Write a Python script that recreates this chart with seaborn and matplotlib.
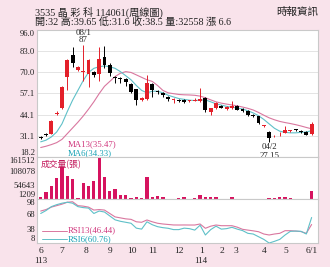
import matplotlib
matplotlib.use('Agg')
import matplotlib.pyplot as plt
import numpy as np
import pandas as pd
import seaborn as sns

# ---------------- data (weekly) ----------------
opens  = [30.6, 32.2, 32.4, 44.6, 48.5, 67.0, 80.8, 71.6, 70.0, 69.2, 70.2, 68.8, 79.7, 74.5, 67.2, 66.4, 66.0, 63.2,
          59.6, 53.2, 53.8, 63.2, 58.6, 57.3, 55.2, 53.2, 53.0, 52.9, 52.6, 52.7, 52.2, 54.4, 45.6, 48.0, 49.7, 47.4,
          48.0, 49.7, 47.6, 46.5, 44.0, 43.3, 37.2, 33.8, 30.9, 31.5, 33.2, 34.2, 35.0, 34.3, 33.5, 32.0]
highs  = [31.2, 32.6, 41.0, 46.2, 61.5, 78.5, 85.8, 74.0, 87.0, 78.0, 71.0, 85.5, 86.0, 75.5, 68.0, 67.2, 66.8, 63.8,
          60.0, 55.0, 68.5, 63.8, 59.5, 58.0, 55.8, 54.5, 53.6, 53.5, 53.4, 54.5, 60.7, 54.8, 48.5, 52.0, 50.3, 49.2,
          52.2, 50.2, 48.0, 47.0, 44.6, 43.6, 38.0, 34.2, 31.6, 33.8, 37.4, 34.9, 35.5, 34.8, 33.9, 39.65]
lows   = [29.5, 31.2, 32.0, 43.8, 47.5, 59.5, 73.5, 71.0, 64.5, 61.3, 67.0, 64.5, 73.0, 68.0, 63.5, 63.5, 62.0, 57.5,
          50.0, 52.5, 53.0, 55.2, 56.5, 55.0, 52.8, 51.0, 51.8, 51.2, 52.0, 52.2, 52.0, 46.0, 43.8, 47.5, 48.0, 47.0,
          47.5, 46.8, 45.8, 43.3, 43.0, 38.3, 36.8, 27.15, 30.5, 31.0, 32.8, 33.8, 34.2, 32.8, 31.4, 31.6]
closes = [30.0, 31.6, 40.4, 45.0, 60.8, 77.5, 75.5, 73.2, 70.8, 77.5, 68.3, 78.5, 74.7, 69.5, 66.4, 65.9, 64.2, 58.3,
          53.0, 54.5, 63.3, 59.2, 58.1, 56.1, 53.8, 53.5, 52.4, 51.9, 52.9, 52.9, 53.9, 46.9, 48.0, 51.4, 48.5, 48.7,
          49.7, 47.2, 46.4, 43.8, 43.6, 38.8, 37.6, 29.8, 31.2, 31.8, 34.9, 34.4, 34.7, 33.3, 31.9, 38.5]
ma6    = [27.5, 28.5, 30.5, 33.5, 38.5, 46.0, 53.0, 59.0, 65.0, 70.0, 72.5, 73.5, 74.0, 73.5, 72.5, 70.5, 68.0, 65.5,
          62.0, 59.0, 57.5, 58.5, 58.5, 57.5, 56.0, 55.0, 54.0, 53.5, 53.0, 52.8, 53.0, 53.2, 52.0, 50.8, 50.0, 49.2,
          48.7, 48.2, 47.6, 46.5, 45.2, 43.5, 41.2, 38.5, 35.8, 34.0, 33.3, 33.0, 33.0, 33.3, 33.5, 34.33]
ma13   = [24.0, 24.8, 25.8, 27.0, 29.0, 32.5, 36.0, 39.5, 43.3, 47.5, 52.0, 57.0, 61.5, 64.5, 67.5, 69.5, 70.5, 70.0,
          68.5, 67.0, 65.5, 64.5, 62.0, 59.0, 57.5, 57.0, 56.5, 56.3, 56.2, 56.0, 55.5, 54.5, 53.2, 52.0, 51.2, 50.6,
          50.1, 49.5, 48.8, 48.0, 47.0, 45.5, 43.8, 42.2, 41.0, 40.0, 39.3, 38.7, 38.0, 37.2, 36.3, 35.47]
volume = [7600, 29000, 50800, 82500, 124500, 89000, 78700, 6200, 61000, 50800, 71000, 161512, 84000, 30500, 40600,
          16400, 16400, 4500, 7600, 6200, 86400, 10000, 11000, 10000, 3000, 3000, 3500, 9500, 3000, 3500, 16000,
          7500, 7500, 7500, 2500, 2500, 10000, 1209, 2500, 2000, 2500, 3000, 2500, 3500, 3500, 7500, 7000, 4000,
          2000, 1800, 1500, 32558]
rsi6   = [69, 75, 83, 87, 90, 92, 90, 83, 81, 80, 69, 74, 72, 64, 56, 53, 51, 49, 39, 37, 52, 46, 42, 40, 38.7, 36,
          36, 39, 38, 35, 45, 25, 36, 43, 37, 38, 40.7, 37, 34, 28.4, 27, 21.5, 16, 8.5, 12, 16, 25, 32.5, 33, 32.5,
          27, 60.76]
rsi13  = [74, 77, 82, 85, 88, 92, 93, 85, 84, 82, 76, 77, 76, 69, 62, 60, 58, 57, 52, 51, 55.7, 52, 49, 47.5, 46.5,
          45.5, 45.4, 45.5, 45.4, 45.4, 47.5, 38.7, 43, 45.4, 44, 44, 44, 41, 36.6, 35, 33.5, 31.7, 27, 25, 27, 28.4,
          33.8, 33.8, 33, 32, 28.4, 46.44]

month_labels = ['6', '7', '8', '9', '10', '11', '12', '1', '2', '3', '4', '5', '6/1']
month_pos = [0, 4, 8.5, 13, 17.1, 21.1, 26, 30.2, 34.1, 36.8, 42, 46.1, 51]
year_labels = ['113', '114']
year_pos = [0, 30.2]
price_ticks = [18.2, 31.1, 44.1, 57.1, 70.0, 83.0, 96.0]
vol_ticks = [1209, 54643, 108078, 161512]
rsi_ticks = [8, 38, 68, 98]

title = '3535 晶 彩 科 114061(周線圖)'
info = '開:32 高:39.65 低:31.6 收:38.5 量:32558 漲 6.6'
source = '時報資訊'

# ---------------- style ----------------
BG = '#f9e3eb'
RED = '#e3202a'
MA13C = '#d9779f'
MA6C = '#5fc0c8'
VOLC = '#d6135f'
GRID = '#e4e4e4'
SPINE = '#c9c9c9'

sns.set_theme(style='white')
FONT = ['Liberation Serif', 'Noto Sans CJK TC', 'DejaVu Sans']
plt.rcParams['font.family'] = FONT

df = pd.DataFrame({'i': np.arange(len(closes)), 'o': opens, 'h': highs, 'l': lows, 'c': closes,
                   'ma6': ma6, 'ma13': ma13, 'vol': volume, 'rsi6': rsi6, 'rsi13': rsi13})

fig = plt.figure(figsize=(3.3, 2.67), dpi=100, facecolor=BG)
L, W = 37 / 330, (318 - 37) / 330
def fy(px):
    return 1 - px / 267
ax1 = fig.add_axes([L, fy(157), W, fy(30) - fy(157)])
ax2 = fig.add_axes([L, fy(199.3), W, fy(157) - fy(199.3)])
ax3 = fig.add_axes([L, fy(243.3), W, fy(199.3) - fy(243.3)])

xl = (-0.7, 52.2)
for ax in (ax1, ax2, ax3):
    ax.set_facecolor('white')
    ax.set_xlim(*xl)
    for s in ax.spines.values():
        s.set_color(SPINE)
        s.set_linewidth(0.8)
    ax.tick_params(axis='y', length=0, pad=1.5, labelsize=6.2, colors='#222222')

# ---------------- price panel ----------------
ax1.set_ylim(18.2, 96.0)
for t in price_ticks[1:-1]:
    ax1.axhline(t, color=GRID, lw=0.7, zorder=0)
up = df['c'] >= df['o']
cols = np.where(up, RED, 'black')
ax1.vlines(df['i'], df['l'], df['h'], colors=cols, lw=0.7, zorder=2)
body_bottom = np.minimum(df['o'], df['c'])
body_h = np.maximum(np.abs(df['c'] - df['o']), 0.45)
ax1.bar(df['i'], body_h, bottom=body_bottom, width=0.72, color=cols, zorder=3, linewidth=0)
sns.lineplot(data=df, x='i', y='ma13', ax=ax1, color=MA13C, lw=0.8, legend=False, zorder=1)
sns.lineplot(data=df, x='i', y='ma6', ax=ax1, color=MA6C, lw=0.8, legend=False, zorder=1)
ax1.set_yticks(price_ticks)
ax1.set_yticklabels([f'{t:.1f}' for t in price_ticks])
lbls = ax1.get_yticklabels()
lbls[0].set_va('bottom')
lbls[-1].set_va('top')
ax1.set_xticks([])
ax1.set_xlabel('')
ax1.set_ylabel('')

ih = int(np.argmax(highs))
il = int(np.argmin(lows))
ax1.text(ih, 94.2, '08/1', ha='center', va='center', fontsize=6.3, color='#222222')
ax1.text(ih, 89.7, f'{highs[ih]:g}', ha='center', va='center', fontsize=6.3, color='#222222')
ax1.text(il, 24.5, '04/2', ha='center', va='center', fontsize=6.3, color='#222222')
ax1.text(il, 18.9, f'{lows[il]:g}', ha='center', va='center', fontsize=6.3, color='#222222', zorder=10,
         bbox=dict(facecolor='white', edgecolor='none', pad=0.3), clip_on=False)
ax1.text(5.15, 26.0, f'MA13({ma13[-1]:.2f})', ha='left', va='center', fontsize=6.3, color='#d0357c')
ax1.text(5.15, 20.8, f'MA6({ma6[-1]:.2f})', ha='left', va='center', fontsize=6.3, color='#17a2b4')

# ---------------- volume panel ----------------
ax2.bar(df['i'], df['vol'], width=0.62, color=VOLC, linewidth=0, zorder=2)
ax2.set_ylim(0, 161512)
ax2.set_yticks(vol_ticks)
ax2.set_yticklabels([str(v) for v in vol_ticks])
vl = ax2.get_yticklabels()
vl[0].set_va('bottom')
vl[-1].set_va('top')
ax2.set_xticks([])
ax2.text(0.05, 134000, '成交量(張)', ha='left', va='center', fontsize=6.3, color='#c2185b',
         family=['Noto Sans CJK TC', 'DejaVu Sans'])

# ---------------- RSI panel ----------------
ax3.set_ylim(8, 98)
sns.lineplot(data=df, x='i', y='rsi13', ax=ax3, color=MA13C, lw=0.8, legend=False)
sns.lineplot(data=df, x='i', y='rsi6', ax=ax3, color=MA6C, lw=0.8, legend=False)
ax3.set_yticks(rsi_ticks)
ax3.set_yticklabels([str(v) for v in rsi_ticks])
rl = ax3.get_yticklabels()
rl[0].set_va('bottom')
rl[-1].set_va('top')
ax3.plot([0.25, 4.9], [33.8, 33.8], color=MA13C, lw=0.7)
ax3.plot([0.25, 4.9], [16.8, 16.8], color=MA6C, lw=0.7)
ax3.text(5.15, 33.8, f'RSI13({rsi13[-1]:.2f})', ha='left', va='center', fontsize=6.3, color='#d0357c')
ax3.text(5.15, 16.8, f'RSI6({rsi6[-1]:.2f})', ha='left', va='center', fontsize=6.3, color='#17a2b4')
ax3.set_xticks(month_pos)
ax3.set_xticklabels(month_labels)
ax3.tick_params(axis='x', length=2, width=0.6, color=SPINE, pad=0.5, labelsize=6.8, colors='#222222')
ax3.set_xlabel('')
ax3.set_ylabel('')
for yl, yp in zip(year_labels, year_pos):
    ax3.text(yp, -0.40, yl, transform=ax3.get_xaxis_transform(), ha='center', va='center',
             fontsize=6.5, color='#222222')
for ax in (ax1, ax2):
    ax.set_xlabel('')
    ax.set_ylabel('')

# ---------------- header ----------------
fig.text(35 / 330, fy(12), title, ha='left', va='center', fontsize=7.3, color='#222222')
fig.text(35 / 330, fy(21.7), info, ha='left', va='center', fontsize=7.3, color='#222222')
fig.text(318 / 330, fy(12), source, ha='right', va='center', fontsize=7.6, color='#222222',
         family=['Noto Sans CJK TC', 'DejaVu Sans'])

fig.savefig('out.png', dpi=100, facecolor=BG)
